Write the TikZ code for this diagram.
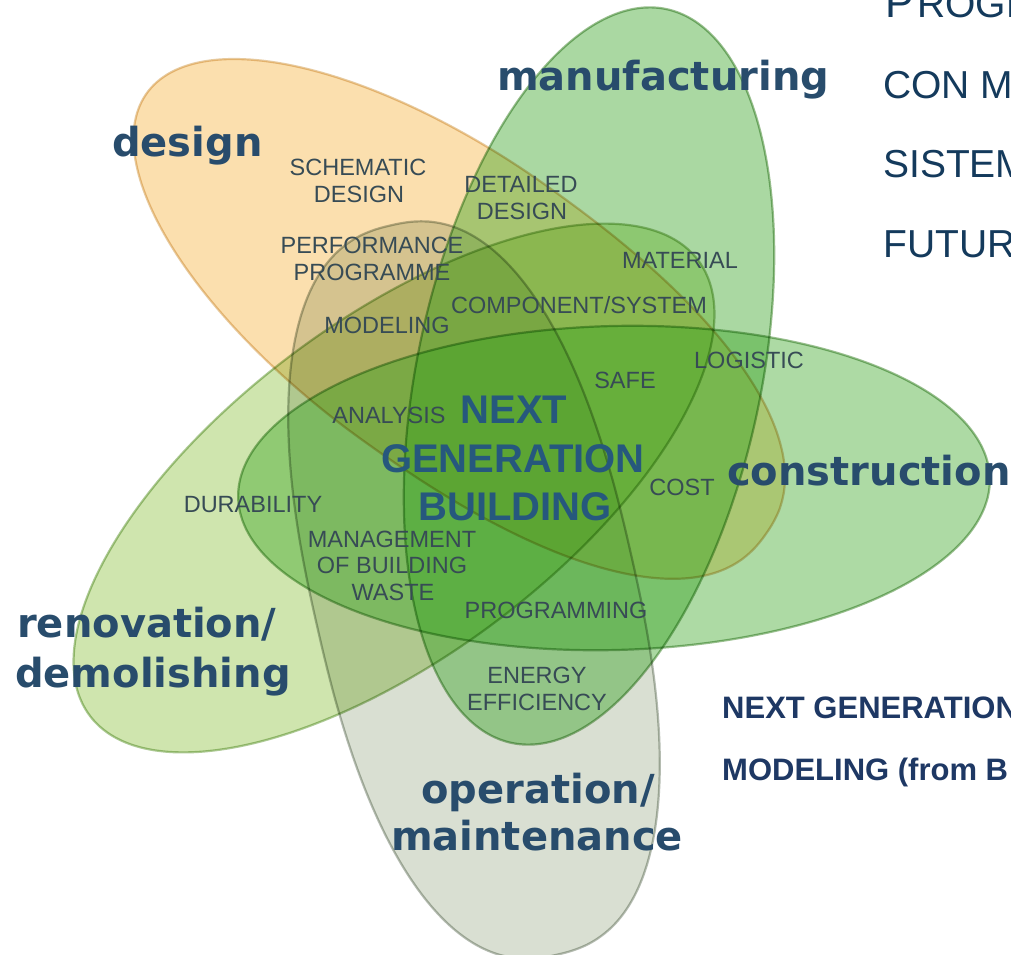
\documentclass[tikz,border=0pt]{standalone}
\usepackage{fontspec}
\setmainfont{Liberation Sans}
\newfontfamily\bigfont{DejaVu Sans}
\definecolor{orangefill}{RGB}{251,223,174}
\definecolor{orangeline}{RGB}{222,182,120}
\definecolor{manuffill}{RGB}{43,158,23}
\definecolor{constrfill}{RGB}{50,163,28}
\definecolor{renovfill}{RGB}{207,229,174}
\definecolor{greyfill}{RGB}{217,223,210}
\definecolor{greenline}{RGB}{110,165,95}
\definecolor{renovline}{RGB}{140,180,105}
\definecolor{greyline}{RGB}{150,160,145}
\definecolor{smalltext}{RGB}{55,75,85}
\definecolor{bigtext}{RGB}{40,76,108}
\definecolor{centertext}{RGB}{38,88,125}
\definecolor{sidetext}{RGB}{20,58,92}
\definecolor{notetext}{RGB}{30,56,100}
\tikzset{
  declare function={
    pex(\vang,\vnp,\vnm) = 2/((cos(\vang)>0) ? \vnp : \vnm);
    psx(\vang,\vnp,\vnm) = sign(cos(\vang))*pow(abs(cos(\vang)),pex(\vang,\vnp,\vnm));
    psy(\vang,\vnp,\vnm) = sign(sin(\vang))*pow(abs(sin(\vang)),pex(\vang,\vnp,\vnm));
  },
  lbl/.style={font=\fontsize{23.5}{26}\selectfont, text=smalltext, inner sep=0, anchor=base},
  biglbl/.style={font=\bigfont\bfseries\fontsize{40}{48}\selectfont, text=bigtext, inner sep=0},
  centerlbl/.style={font=\bfseries\fontsize{40}{48}\selectfont, text=centertext, inner sep=0, anchor=base},
  sidelbl/.style={font=\fontsize{39}{44}\selectfont, text=sidetext, inner sep=0, anchor=base west},
  notelbl/.style={font=\bfseries\fontsize{31}{36}\selectfont, text=notetext, inner sep=0, anchor=base west},
  petalline/.style={line width=2.2pt, draw opacity=0.7},
  greenfill/.style={fill=#1, fill opacity=0.4},
}
% #1 cx, #2 cy, #3 angle, #4 a, #5 b, #6 n(+X side), #7 n(-X side), #8 options
\newcommand\petal[8]{%
  \path[#8] plot[smooth cycle, domain=1:358, samples=120, variable=\t]
   ({#1 + #4*psx(\t,#6,#7)*cos(#3) - #5*psy(\t,#6,#7)*sin(#3)},
    {#2 + #4*psx(\t,#6,#7)*sin(#3) + #5*psy(\t,#6,#7)*cos(#3)});}
\newcommand\constrpetal[1]{\petal{614}{488}{-1.5}{376}{162}{2}{2}{#1}}
\newcommand\manufpetal[1]{\petal{589}{376}{101.9}{375}{172}{2}{2}{#1}}
\newcommand\renovpetal[1]{\petal{394}{488}{-36.8}{380}{168}{2}{2}{#1}}
\newcommand\greypetal[1]{\petal{474}{590}{77.2}{374}{161}{2.4}{2.4}{#1}}
\newcommand\orangepetal[1]{\petal{456}{314}{35.5}{380}{157}{2.3}{2}{#1}}
\begin{document}
\begin{tikzpicture}[x=1pt, y=-1pt]
\useasboundingbox (0,0) rectangle (1011,954);
\clip (0,0) rectangle (1011,954);
\fill[white] (0,0) rectangle (1011,954);
% fills: light petals multiplied, green petals laid over half transparent
\begin{scope}[blend mode=multiply]
  \renovpetal{fill=renovfill}
  \greypetal{fill=greyfill}
  \orangepetal{fill=orangefill}
\end{scope}
\manufpetal{greenfill=manuffill}
\constrpetal{greenfill=constrfill}
% outlines
\begin{scope}[blend mode=multiply]
  \constrpetal{draw=greenline, petalline}
  \manufpetal{draw=greenline, petalline}
  \renovpetal{draw=renovline, petalline}
  \greypetal{draw=greyline, petalline}
  \orangepetal{draw=orangeline, petalline}
\end{scope}
% big labels
\node[biglbl, anchor=base west] (design) at (112,156) {design};
\node[biglbl, anchor=base west] (manuf) at (497,90) {manufacturing};
\node[biglbl, anchor=base west] (constr) at (727,485) {construction};
\node[biglbl, anchor=base west] (renov1) at (17,637) {renovation/};
\node[biglbl, anchor=base west] (renov2) at (15,687) {demolishing};
\node[biglbl, anchor=base] (oper1) at (538,803) {operation/};
\node[biglbl, anchor=base] (oper2) at (537,850) {maintenance};
% small labels
\node[lbl] (sch1) at (358,175) {SCHEMATIC};
\node[lbl] (sch2) at (359,202) {DESIGN};
\node[lbl] (det1) at (521,192) {DETAILED};
\node[lbl] (det2) at (522,219) {DESIGN};
\node[lbl] (perf1) at (372,253) {PERFORMANCE};
\node[lbl] (perf2) at (372,280) {PROGRAMME};
\node[lbl] (mat) at (680,268) {MATERIAL};
\node[lbl] (comp) at (579,313) {COMPONENT/SYSTEM};
\node[lbl] (model) at (387,333) {MODELING};
\node[lbl] (logi) at (749,368) {LOGISTIC};
\node[lbl] (safe) at (625,388) {SAFE};
\node[lbl] (anal) at (389,423) {ANALYSIS};
\node[lbl] (cost) at (682,495) {COST};
\node[lbl] (dura) at (253,512) {DURABILITY};
\node[lbl] (man1) at (392,547) {MANAGEMENT};
\node[lbl] (man2) at (392,573) {OF BUILDING};
\node[lbl] (man3) at (393,600) {WASTE};
\node[lbl] (prog) at (556,618) {PROGRAMMING};
\node[lbl] (ene1) at (537,683) {ENERGY};
\node[lbl] (ene2) at (537,710) {EFFICIENCY};
% center
\node[centerlbl] (ngb1) at (514,423) {NEXT};
\node[centerlbl] (ngb2) at (513,472) {GENERATION};
\node[centerlbl] (ngb3) at (515,520) {BUILDING};
% right side text
\node[sidelbl, font=\fontsize{43}{48}\selectfont] (t0a) at (885,17) {P};
\node[sidelbl] (t0b) at (917,17) {ROGE};
\node[sidelbl] (t1) at (883,98) {CON M};
\node[sidelbl] (t2) at (883,177) {SISTEM};
\node[sidelbl] (t3) at (883,257) {FUTURO};
\node[notelbl] (n1) at (722,718) {NEXT GENERATION};
\node[notelbl] (n2) at (722,780) {MODELING (from B};
\end{tikzpicture}
\end{document}
